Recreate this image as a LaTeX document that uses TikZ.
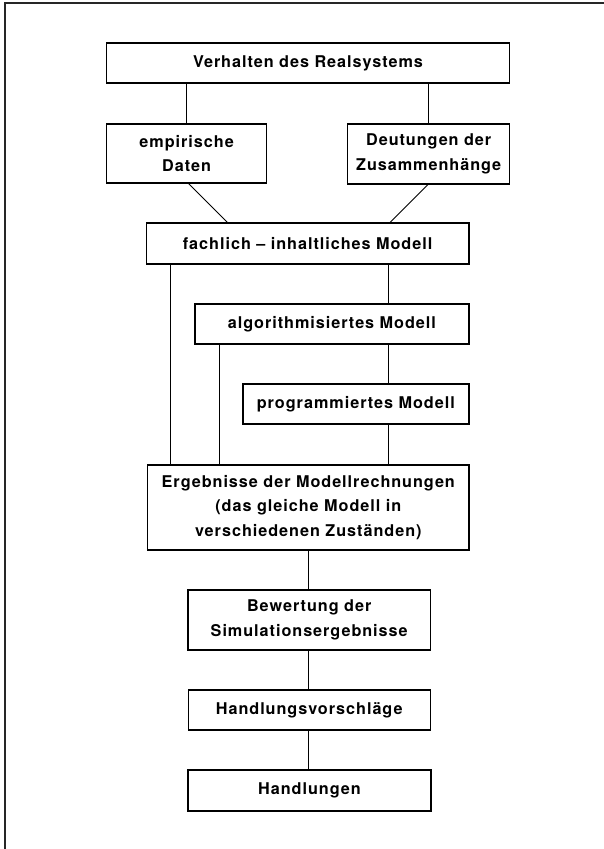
\documentclass[tikz,border=0pt]{standalone}
\usepackage{fontspec}
\setmainfont{TeX Gyre Heros}[LetterSpace=6]
\begin{document}
\begin{tikzpicture}[x=1pt,y=1pt,
  box/.style={draw=black,line width=1.4pt,rectangle,inner sep=0pt,align=center,
    font=\fontsize{16.2}{24.8}\selectfont\bfseries},
  conn/.style={draw=black,line width=0.9pt},
  frame/.style={draw=black!85,line width=1.1pt}]
\useasboundingbox (0,0) rectangle (604,-849);
\draw[frame] (5,-849) -- (5,-3) -- (604,-3);

\node[box,minimum width=402.5pt,minimum height=40pt] (verh) at (308,-63) {Verhalten des Realsystems};
\node[box,minimum width=160pt,minimum height=59pt] (emp) at (186.6,-153.5) {empirische\\Daten};
\node[box,minimum width=162pt,minimum height=60pt] (deut) at (428.7,-154) {Deutungen der\\Zusammenhänge};
\node[box,minimum width=322.4pt,minimum height=41pt] (fach) at (307.6,-243.5) {fachlich -- inhaltliches Modell};
\node[box,minimum width=274pt,minimum height=40pt] (algo) at (331.9,-324) {algorithmisiertes Modell};
\node[box,minimum width=226pt,minimum height=40pt] (prog) at (355.8,-404) {programmiertes Modell};
\node[box,minimum width=321.7pt,minimum height=85pt] (erg) at (308.3,-507.5) {Ergebnisse der Modellrechnungen\\(das gleiche Modell in\\verschiedenen Zuständen)};
\node[box,minimum width=242.3pt,minimum height=60pt] (bew) at (309.2,-620) {Bewertung der\\Simulationsergebnisse};
\node[box,minimum width=242pt,minimum height=40pt] (hv) at (309.2,-710) {Handlungsvorschläge};
\node[box,minimum width=243pt,minimum height=41pt] (hand) at (309.5,-790.5) {Handlungen};

\coordinate (xa) at (170.6,0);
\coordinate (xb) at (219.6,0);
\coordinate (xc) at (388.3,0);
\coordinate (xd) at (308.3,0);

\draw[conn] (verh.south -| emp.north) -- (emp.north);
\draw[conn] (verh.south -| deut.north) -- (deut.north);
\draw[conn] ([xshift=2pt]emp.south) -- ([xshift=-80.3pt]fach.north);
\draw[conn] ([xshift=-1pt]deut.south) -- ([xshift=82.6pt]fach.north);
\draw[conn] (fach.south -| xa) -- (erg.north -| xa);
\draw[conn] (fach.south -| xc) -- (algo.north -| xc);
\draw[conn] (algo.south -| xb) -- (erg.north -| xb);
\draw[conn] (algo.south -| xc) -- (prog.north -| xc);
\draw[conn] (prog.south -| xc) -- (erg.north -| xc);
\draw[conn] (erg.south -| xd) -- (bew.north -| xd);
\draw[conn] (bew.south -| xd) -- (hv.north -| xd);
\draw[conn] (hv.south -| xd) -- (hand.north -| xd);
\end{tikzpicture}
\end{document}
